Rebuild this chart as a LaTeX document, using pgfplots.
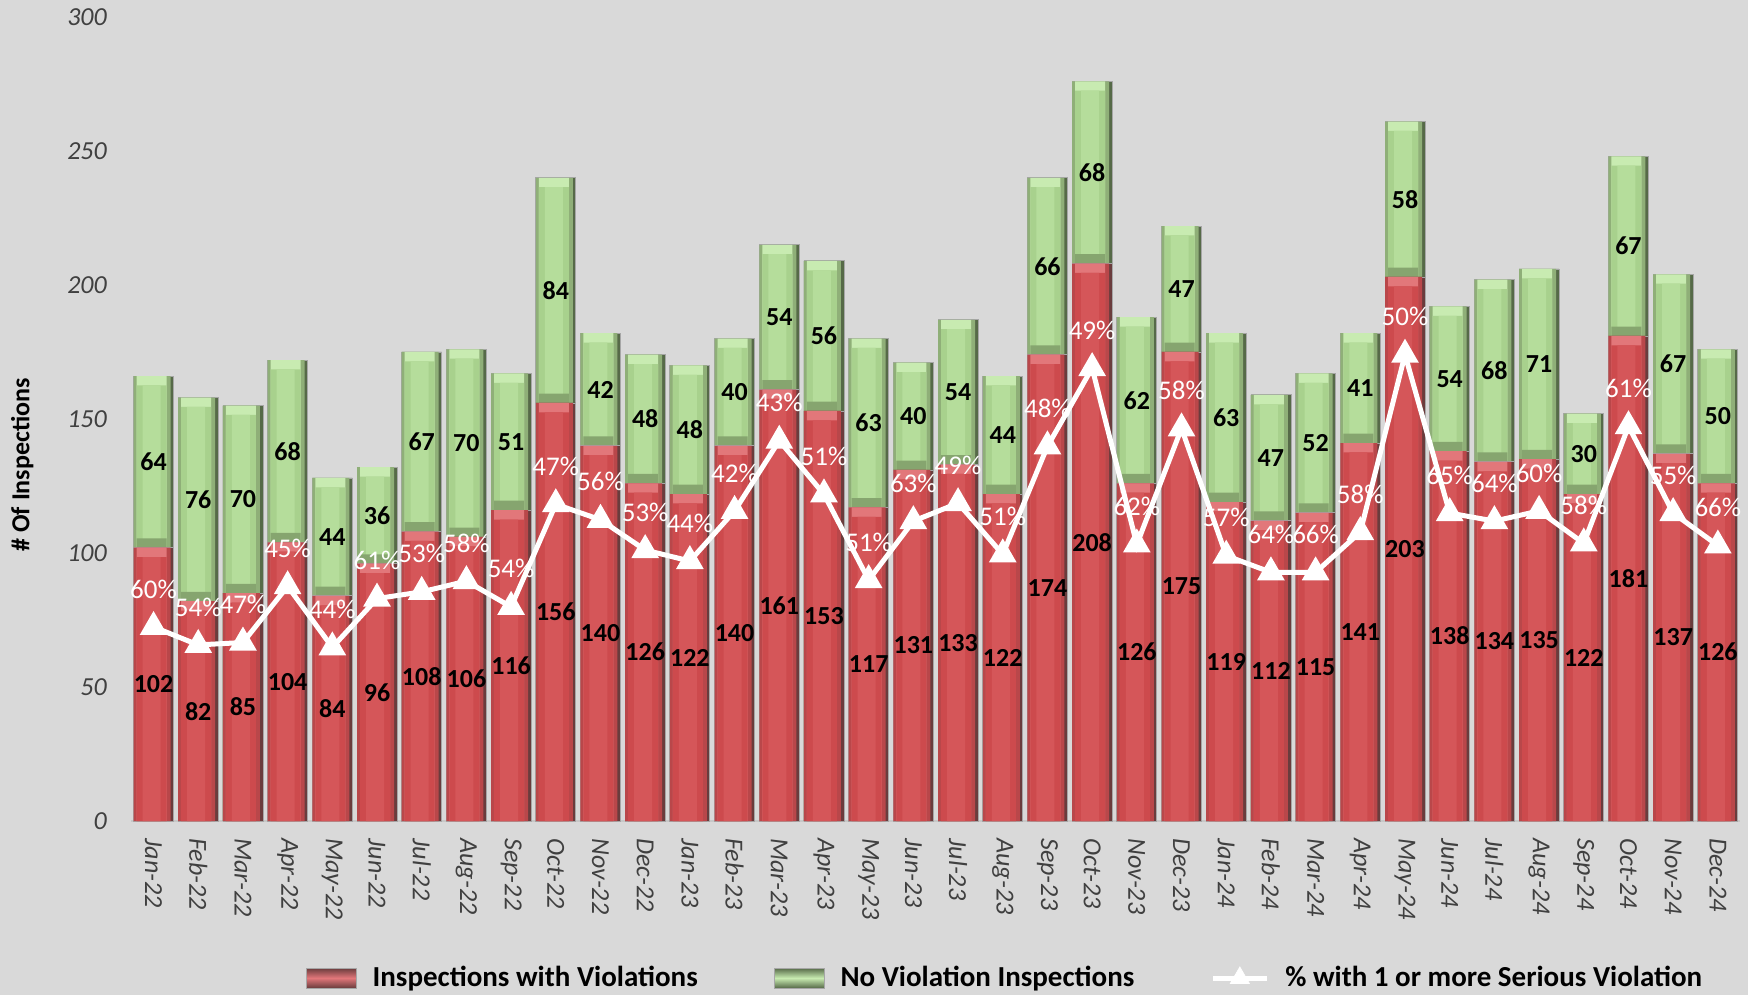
\documentclass[border=0pt]{standalone}
\usepackage{pgfplots}
\pgfplotsset{compat=1.18}
\usepackage{pgfplotstable}
\usepackage{fontspec}
\setmainfont{Carlito}
\newcommand\F{\fontsize{13}{15}\selectfont}

\definecolor{bg}{HTML}{D9D9D9}
\definecolor{tick}{HTML}{404040}
% red bar tones
\definecolor{rR}{HTML}{6A3C3D}
\definecolor{rL}{HTML}{B9474A}
\definecolor{rM}{HTML}{CD4A4D}
\definecolor{rC}{HTML}{D55659}
\definecolor{rT}{HTML}{E2777A}
% green bar tones
\definecolor{gR}{HTML}{566A48}
\definecolor{gL}{HTML}{8FAF78}
\definecolor{gM}{HTML}{A8D18D}
\definecolor{gC}{HTML}{B5DD9B}
\definecolor{gT}{HTML}{C8EBB1}
\definecolor{gB}{HTML}{86A56F}

\pgfplotstableread{
x r g l p
0 102 64 72.4 60
1 82 76 65.7 54
2 85 70 66.6 47
3 104 68 87.6 45
4 84 44 64.8 44
5 96 36 83.0 61
6 108 67 85.5 53
7 106 70 89.5 58
8 116 51 79.9 54
9 156 84 118.2 47
10 140 42 112.4 56
11 126 48 101.1 53
12 122 48 97.0 44
13 140 40 115.7 42
14 161 54 141.9 43
15 153 56 121.9 51
16 117 63 89.9 51
17 131 40 111.9 63
18 133 54 118.6 49
19 122 44 99.5 51
20 174 66 139.8 48
21 208 68 169.0 49
22 126 62 103.2 62
23 175 47 146.5 58
24 119 63 99.0 57
25 112 47 92.8 64
26 115 52 92.8 66
27 141 41 107.8 58
28 203 58 174.0 50
29 138 54 114.9 65
30 134 68 111.9 64
31 135 71 115.7 60
32 122 30 103.6 58
33 181 67 147.3 61
34 137 67 114.9 55
35 126 50 102.8 66
}\data

\pgfplotsset{
  lay/.style n args={3}{ybar, bar width=#1, bar shift=#2, fill=#3, draw=none, forget plot},
}

\begin{document}
\begin{tikzpicture}
\fill[bg] (-65.6pt,-87pt) rectangle (808.4pt,410.5pt);
\begin{axis}[
  at={(0,0)}, anchor=south west, scale only axis,
  width=804.5pt, height=402pt,
  xmin=-0.5, xmax=35.5, ymin=0, ymax=300,
  axis x line*=bottom, axis y line*=left,
  y axis line style={draw=none},
  x axis line style={draw=black!22, line width=0.8pt, -},
  tick style={draw=none},
  xtick={0,...,35},
  xticklabels={Jan-22,Feb-22,Mar-22,Apr-22,May-22,Jun-22,Jul-22,Aug-22,Sep-22,Oct-22,Nov-22,Dec-22,Jan-23,Feb-23,Mar-23,Apr-23,May-23,Jun-23,Jul-23,Aug-23,Sep-23,Oct-23,Nov-23,Dec-23,Jan-24,Feb-24,Mar-24,Apr-24,May-24,Jun-24,Jul-24,Aug-24,Sep-24,Oct-24,Nov-24,Dec-24},
  xticklabel style={yshift=-8.5pt, rotate=-90, anchor=west, inner sep=0pt, font=\F\itshape, text=tick},
  ytick={0,50,...,300},
  yticklabel style={anchor=east, inner sep=0pt, xshift=-12pt, font=\F\itshape, text=tick},
  /pgf/number format/assume math mode=true,
  ylabel={\# Of Inspections},
  every axis y label/.style={at={(axis description cs:-0.0677,0.443)}, rotate=90, anchor=center, font=\F\bfseries},
  legend style={at={(axis description cs:0.5437,-0.1953)}, anchor=center, draw=none, fill=none, legend columns=3,
    font=\fontsize{14.5}{16}\selectfont\bfseries,
    /tikz/every even column/.append style={column sep=36pt},
    /tikz/every odd column/.append style={column sep=6pt}},
  legend cell align=left,
]
% green segments (drawn to the total height)
\addplot[lay={20pt}{0pt}{gR}, draw=black!35, line width=0.4pt] table[x=x, y expr=\thisrow{r}+\thisrow{g}]{\data};
\addplot[lay={18.5pt}{-0.75pt}{gL}] table[x=x, y expr=\thisrow{r}+\thisrow{g}]{\data};
\addplot[lay={15pt}{-1pt}{gT}] table[x=x, y expr=\thisrow{r}+\thisrow{g}]{\data};
\addplot[lay={15pt}{-1pt}{gM}] table[x=x, y expr=\thisrow{r}+\thisrow{g}-3.5]{\data};
\addplot[lay={9pt}{-1pt}{gC}] table[x=x, y expr=\thisrow{r}+\thisrow{g}-3.5]{\data};
\addplot[lay={15pt}{-1pt}{gB}] table[x=x, y expr=\thisrow{r}+3.5]{\data};
% red segments
\addplot[lay={20pt}{0pt}{rR}, draw=black!35, line width=0.4pt] table[x=x, y=r]{\data};
\addplot[lay={18.5pt}{-0.75pt}{rL}] table[x=x, y=r]{\data};
\addplot[lay={15pt}{-1pt}{rT}] table[x=x, y=r]{\data};
\addplot[lay={15pt}{-1pt}{rM}] table[x=x, y expr=\thisrow{r}-3.5]{\data};
\addplot[lay={9pt}{-1pt}{rC}] table[x=x, y expr=\thisrow{r}-3.5]{\data};
% value labels
\addplot[forget plot, draw=none, mark=none, nodes near coords={\pgfplotspointmeta}, point meta=explicit symbolic,
  every node near coord/.append style={black, font=\F\bfseries, anchor=center}]
  table[x=x, y expr=\thisrow{r}/2, meta=r]{\data};
\addplot[forget plot, draw=none, mark=none, nodes near coords={\pgfplotspointmeta}, point meta=explicit symbolic,
  every node near coord/.append style={black, font=\F\bfseries, anchor=center}]
  table[x=x, y expr=\thisrow{r}+\thisrow{g}/2, meta=g]{\data};
% percentage line
\addplot[forget plot, white, line width=2.5pt, mark=triangle*, mark size=5.5pt, mark options={fill=white, draw=white}]
  table[x=x, y=l]{\data};
\addplot[forget plot, draw=none, mark=none, nodes near coords={\pgfplotspointmeta\%}, point meta=explicit symbolic,
  every node near coord/.append style={white, font=\fontsize{13.5}{15}\selectfont, anchor=center, yshift=19pt}]
  table[x=x, y=l, meta=p]{\data};
% legend
\addlegendimage{legend image code/.code={\path[draw=black!35, line width=0.4pt, top color=rR, bottom color=rR, middle color=rT] (0pt,-5pt) rectangle (25pt,5pt);}}
\addlegendentry{Inspections with Violations}
\addlegendimage{legend image code/.code={\path[draw=black!35, line width=0.4pt, top color=gR, bottom color=gR, middle color=gT] (0pt,-5pt) rectangle (25pt,5pt);}}
\addlegendentry{No Violation Inspections}
\addlegendimage{legend image code/.code={\draw[white, line width=2.5pt] (0pt,0pt) -- (27pt,0pt); \path[white] plot[mark=triangle*, mark size=5.5pt, mark options={fill=white, draw=white}] coordinates {(13.5pt,0pt)};}}
\addlegendentry{\% with 1 or more Serious Violation}
\end{axis}
\pgfresetboundingbox
\useasboundingbox (-65.6pt,-87pt) rectangle (808.4pt,410.5pt);
\end{tikzpicture}
\end{document}
